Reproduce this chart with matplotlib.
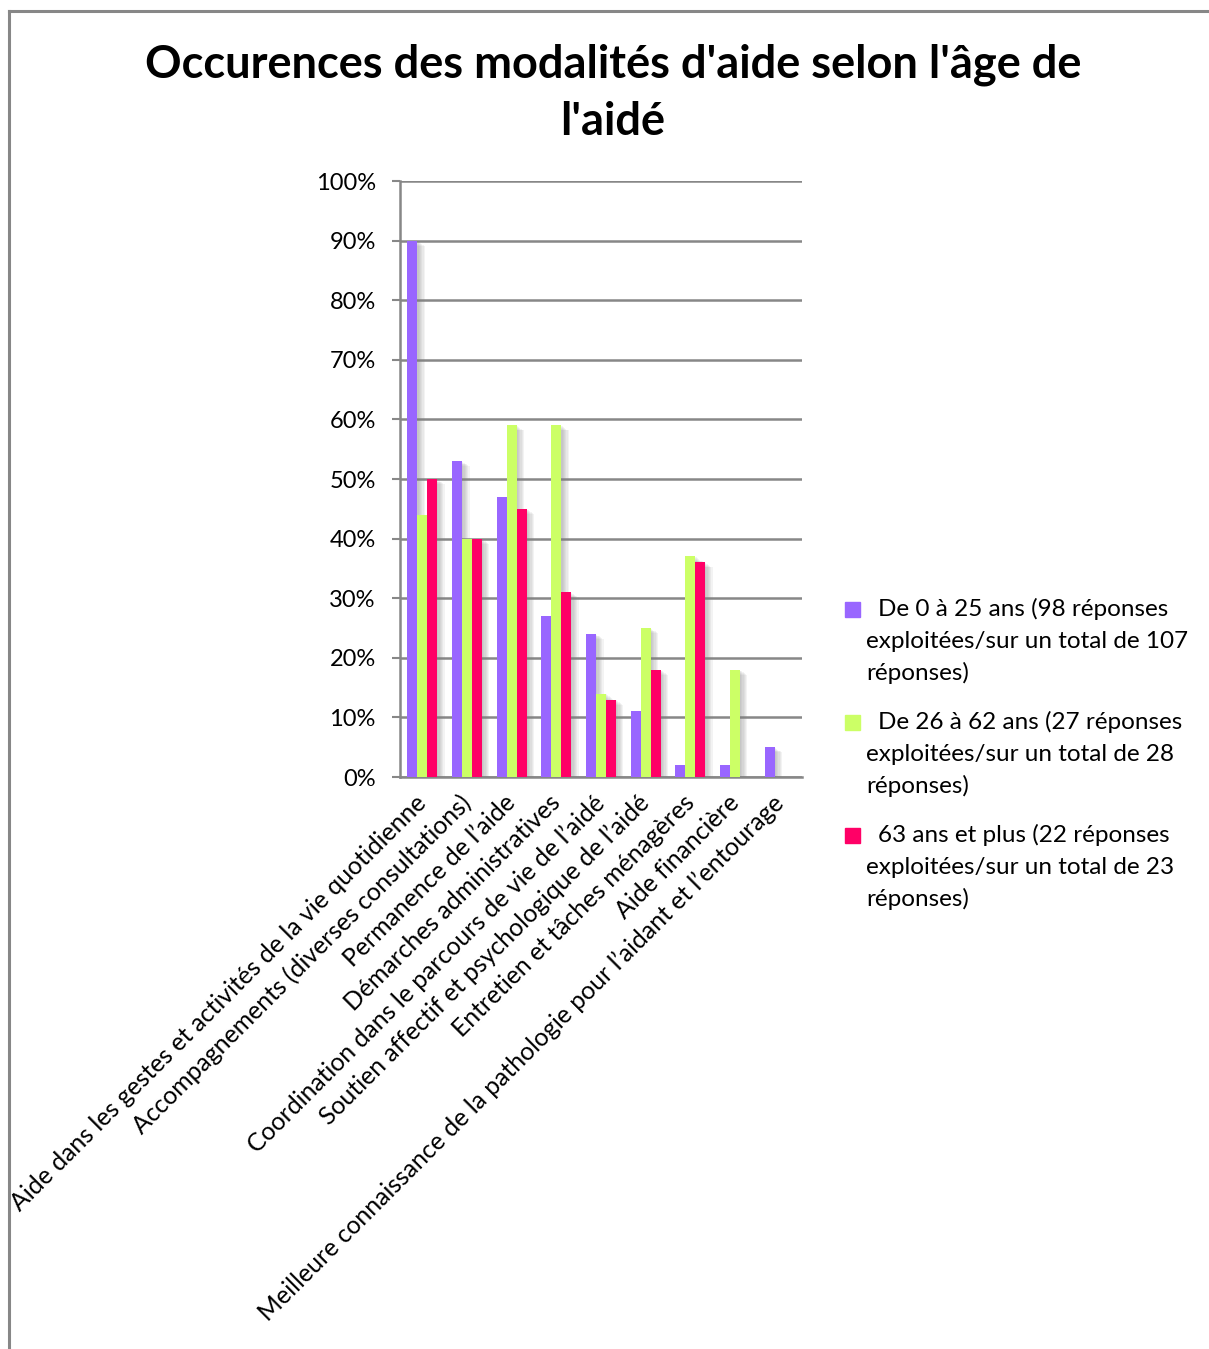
import matplotlib
matplotlib.use("Agg")
import matplotlib.pyplot as plt
import matplotlib.patheffects as pe
from matplotlib.patches import Rectangle
from matplotlib.lines import Line2D
import numpy as np

plt.rcParams["font.family"] = ["Lato", "DejaVu Sans"]

categories = [
    "Aide dans les gestes et activités de la vie quotidienne",
    "Accompagnements (diverses consultations)",
    "Permanence de l\u2019aide",
    "Démarches administratives",
    "Coordination dans le parcours de vie de l\u2019aidé",
    "Soutien affectif et psychologique de l\u2019aidé",
    "Entretien et tâches ménagères",
    "Aide financière",
    "Meilleure connaissance de la pathologie pour l\u2019aidant et l\u2019entourage",
]
age_0_25 = [90, 53, 47, 27, 24, 11, 2, 2, 5]
age_26_62 = [44, 40, 59, 59, 14, 25, 37, 18, 0]
age_63_plus = [50, 40, 45, 31, 13, 18, 36, 0, 0]

series_first = [
    "De 0 à 25 ans (98 réponses",
    "De 26 à 62 ans (27 réponses",
    "63 ans et plus (22 réponses",
]
series_rest = [
    "exploitées/sur un total de 107\nréponses)",
    "exploitées/sur un total de 28\nréponses)",
    "exploitées/sur un total de 23\nréponses)",
]
colors = ["#9966FF", "#CCFF66", "#FF0066"]

W, H = 1209, 1349
fig = plt.figure(figsize=(W / 100, H / 100), dpi=100)

# frame around the chart area (top and left edges)
fig.add_artist(Line2D([9 / W, 1.0], [1 - 10.5 / H] * 2, color="#878787", lw=2.2,
                      transform=fig.transFigure))
fig.add_artist(Line2D([9 / W] * 2, [0, 1 - 10.5 / H], color="#878787", lw=2.2,
                      transform=fig.transFigure))

ax = fig.add_axes([400 / W, 1 - 777 / H, 402 / W, 596 / H])

x = np.arange(len(categories))
width = 0.222
# soft drop shadow: a few stacked translucent offsets
shadow = [pe.SimplePatchShadow(offset=(0.9 * k, -0.6 * k), shadow_rgbFace="#808080",
                               alpha=0.09) for k in range(1, 7)] + [pe.Normal()]
for i, vals in enumerate([age_0_25, age_26_62, age_63_plus]):
    ax.bar(x + (i - 1) * width, vals, width, color=colors[i], zorder=3,
           path_effects=shadow)

ax.set_xlim(-0.5, len(categories) - 0.5)
ax.set_ylim(0, 100)
ax.set_yticks(range(0, 101, 10))
ax.set_yticklabels([f"{v}%" for v in range(0, 101, 10)], fontsize=17)
ax.yaxis.grid(True, color="#878787", lw=1.8, zorder=0)
ax.set_axisbelow(True)
ax.tick_params(axis="y", length=5.5, width=1.5, color="#878787", pad=12)
ax.tick_params(axis="x", length=0, pad=16)
ax.set_xticks(x)
ax.set_xticklabels(categories, rotation=45, ha="right", rotation_mode="anchor",
                   fontsize=17.8, va="center")
for s in ["top", "right"]:
    ax.spines[s].set_visible(False)
for s in ["left", "bottom"]:
    ax.spines[s].set_color("#878787")
    ax.spines[s].set_linewidth(1.8)

fig.text(613 / W, 1 - 93 / H, "Occurences des modalités d'aide selon l'âge de\nl'aidé",
         ha="center", va="center", fontsize=32.5, fontweight="bold", linespacing=1.45)

# legend drawn as squares + wrapped labels
for i in range(3):
    y0 = 609 + i * 113
    fig.add_artist(Rectangle((845 / W, 1 - (y0 + 7.5) / H), 15 / W, 15 / H,
                             color=colors[i], transform=fig.transFigure))
    fig.text(878 / W, 1 - y0 / H, series_first[i], ha="left", va="center", fontsize=17.5)
    fig.text(866 / W, 1 - (y0 + 22) / H, series_rest[i], ha="left", va="top",
             fontsize=17.5, linespacing=1.55)

fig.savefig("out.png", dpi=100)
